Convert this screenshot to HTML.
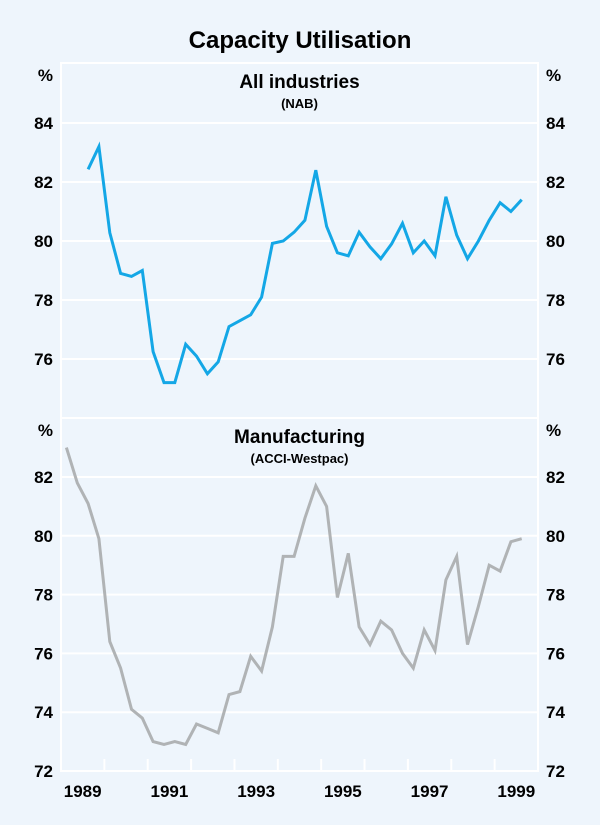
<!DOCTYPE html>
<html><head><meta charset="utf-8">
<style>
body{margin:0;background:#eef5fc;font-family:"Liberation Sans",Arial,sans-serif;}
svg text{font-family:"Liberation Sans",Arial,sans-serif;fill:#000;}
</style></head>
<body>
<svg width="600" height="820" viewBox="0 0 600 820">
<rect width="600" height="820" fill="#eef5fc"/>
<text x="300" y="48" text-anchor="middle" font-size="24" font-weight="bold">Capacity Utilisation</text>
<g id="g"></g>
</svg>
<script>
const allIndustries = [82.43,83.2,80.28,78.9,78.8,79.0,76.25,75.2,75.2,76.5,76.1,75.5,75.9,77.1,77.3,77.5,78.1,79.92,80.0,80.3,80.7,82.4,80.5,79.6,79.5,80.3,79.8,79.4,79.9,80.6,79.6,80.0,79.5,81.5,80.2,79.4,80.0,80.7,81.3,81.0,81.4];
const allStart = 2;
const manufacturing = [83.0,81.8,81.1,79.9,76.4,75.5,74.1,73.8,73.0,72.9,73.0,72.9,73.6,73.45,73.3,74.6,74.7,75.9,75.4,76.9,79.3,79.3,80.6,81.7,81.0,77.9,79.4,76.9,76.3,77.1,76.8,76.0,75.5,76.8,76.1,78.5,79.3,76.3,77.6,79.0,78.8,79.8,79.9];
const manStart = 0;
const yearLabels = ["1989","1991","1993","1995","1997","1999"];
const topTicks = [76,78,80,82,84];
const botTicks = [72,74,76,78,80,82];

const NS="http://www.w3.org/2000/svg";
const g=document.getElementById('g');
const L=61,R=538,Y0=1989,NY=11;
const qx=i=>L+(i+0.5)*(R-L)/(NY*4);
const yrx=y=>L+(y-Y0)*(R-L)/NY;
function el(t,a,p){const e=document.createElementNS(NS,t);for(const k in a)e.setAttribute(k,a[k]);(p||g).appendChild(e);return e;}
const topY=v=>123+(84-v)*29.5;
const botY=v=>771+(72-v)*29.4;

function panel(y1,y2,ticks,yf,title,sub,data,start,color,name){
  const f=el('rect',{x:L,y:y1,width:R-L,height:y2-y1,fill:'none',stroke:'#fff','stroke-width':2});
  
  
  ticks.forEach(t=>{
    const y=yf(t);
    if(y>y1+2&&y<y2-2){const gl=el('line',{x1:L,x2:R,y1:y,y2:y,stroke:'#fff','stroke-width':2});
    
    }
    const a=el('text',{x:L-8,y:y+6,'text-anchor':'end','font-size':17,'font-weight':'bold'});a.textContent=t;
    
    
    const b=el('text',{x:R+8,y:y+6,'text-anchor':'start','font-size':17,'font-weight':'bold'});b.textContent=t;
    
    
  });
  const p1=el('text',{x:L-8,y:y1+18,'text-anchor':'end','font-size':17,'font-weight':'bold'});p1.textContent='%';
  
  
  const p2=el('text',{x:R+8,y:y1+18,'text-anchor':'start','font-size':17,'font-weight':'bold'});p2.textContent='%';
  
  
  const t=el('text',{x:(L+R)/2,y:y1+25,'text-anchor':'middle','font-size':19,'font-weight':'bold'});t.textContent=title;
  
  
  const s=el('text',{x:(L+R)/2,y:y1+45,'text-anchor':'middle','font-size':13,'font-weight':'bold'});s.textContent=sub;
  
  
  const pts=data.map((v,i)=>qx(i+start).toFixed(1)+','+yf(v).toFixed(1)).join(' ');
  const l=el('polyline',{points:pts,fill:'none',stroke:color,'stroke-width':3,'stroke-linejoin':'miter'});
  
  
}
panel(63,418,topTicks,topY,'All industries','(NAB)',allIndustries,allStart,'#14a7e6','all-industries');
panel(418,771,botTicks,botY,'Manufacturing','(ACCI-Westpac)',manufacturing,manStart,'#b0b3b5','manufacturing');
for(let y=Y0+1;y<Y0+NY;y++){
  const tk=el('line',{x1:yrx(y),x2:yrx(y),y1:771,y2:759,stroke:'#fff','stroke-width':2});
  
  
}
yearLabels.forEach(s=>{
  const y=+s;
  const t=el('text',{x:yrx(y+0.5),y:797,'text-anchor':'middle','font-size':17,'font-weight':'bold'});t.textContent=s;
  
  
});
</script>
</body></html>
